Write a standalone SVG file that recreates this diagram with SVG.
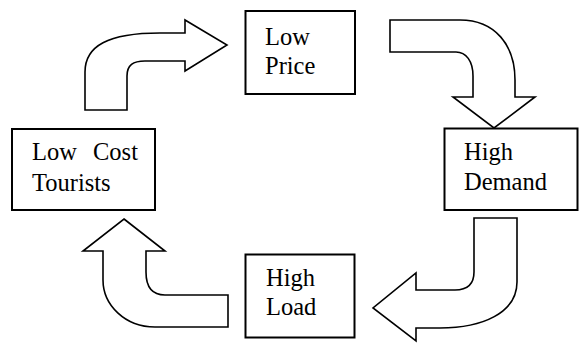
<svg xmlns="http://www.w3.org/2000/svg" width="581" height="343" viewBox="0 0 581 343">
<style>
.box{fill:#fff;stroke:#000;stroke-width:2}
.arr{fill:#fff;stroke:#000;stroke-width:1.6;stroke-linejoin:miter}
.t{font-family:'Times New Roman','Liberation Serif','DejaVu Serif',serif;font-size:24.5px;fill:#000}
</style>
<rect width="581" height="343" fill="#fff"/>
<g id="connectors">
<path class="arr" d="M85,110 L85,72 C85,46 108,33 160,33 L185,33 L185,20 L227,45 L185,71 L185,61 L145,61 C133,61 127,65 127,76 L127,110 Z"/>
<path class="arr" d="M390,20 L460,20 C495,20 515,45 515,80 L515,97 L535,97 L494,128 L453,97 L473,97 L473,76 C473,61 466,52 456,52 L390,52 Z"/>
<path class="arr" d="M474,218 L517,218 L517,282 C517,313 482,328 440,328 L416,328 L416,341 L373,308 L416,273 L416,290 L455,290 C467,290 474,285 474,272 Z"/>
<path class="arr" d="M124,219 L165,251 L146,251 L146,272 C146,287 152,295 165,295 L228,295 L228,327 L155,327 C125,327 103,305 103,280 L103,251 L83,251 Z"/>
</g>
<g id="low-price">
<rect class="box" x="245.5" y="11" width="109.5" height="83"/>
<text class="t" x="265" y="45">Low</text>
<text class="t" x="265" y="74">Price</text>
</g>
<g id="high-demand">
<rect class="box" x="444.5" y="128.5" width="133" height="81.5"/>
<text class="t" x="464" y="160">High</text>
<text class="t" x="464" y="190">Demand</text>
</g>
<g id="high-load">
<rect class="box" x="245.5" y="254.5" width="109" height="83"/>
<text class="t" x="266" y="286">High</text>
<text class="t" x="266" y="315">Load</text>
</g>
<g id="low-cost-tourists">
<rect class="box" x="12" y="129" width="143" height="81"/>
<text class="t" y="160"><tspan x="32">Low</tspan><tspan x="93">Cost</tspan></text>
<text class="t" x="32" y="191">Tourists</text>
</g>
</svg>
